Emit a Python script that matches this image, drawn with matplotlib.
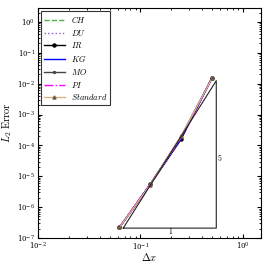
import matplotlib
matplotlib.use("Agg")
import matplotlib.pyplot as plt

plt.rcParams['mathtext.fontset'] = 'cm'
plt.rcParams['font.family'] = 'serif'
plt.rcParams['font.serif'] = ['DejaVu Serif']

# grid spacing
dx = [0.0625, 0.125, 0.25, 0.5]

# L2 errors per method
err_ch = [2.2e-7, 5.6e-6, 1.75e-4, 1.5e-2]
err_du = [2.3e-7, 5.6e-6, 1.8e-4, 1.55e-2]
err_ir = [2.2e-7, 5.5e-6, 1.6e-4, 1.58e-2]
err_kg = [2.2e-7, 5.5e-6, 1.7e-4, 1.5e-2]
err_mo = [2.2e-7, 5.5e-6, 2.0e-4, 1.55e-2]
err_pi = [2.3e-7, 5.7e-6, 1.8e-4, 1.5e-2]
err_std = [2.2e-7, 5.4e-6, 2.0e-4, 1.5e-2]

# slope triangle corners
tri_x = [0.068, 0.55, 0.55, 0.068]
tri_y = [2.1e-7, 2.1e-7, 1.25e-2, 2.1e-7]

fig = plt.figure(figsize=(2.69, 2.69), dpi=100)
ax = fig.add_axes([0.141, 0.115, 0.829, 0.855])

ax.plot(dx, err_ch, '--', color='#4daf4a', lw=1.0, label='$CH$')
ax.plot(dx, err_du, ':', color='#8e5fd0', lw=1.0, label='$DU$')
ax.plot(dx, err_ir, '-', color='black', lw=1.0, marker='o', ms=2.2, label='$IR$')
ax.plot(dx, err_kg, '-', color='blue', lw=1.0, label='$KG$')
ax.plot(dx, err_mo, '-', color='#444444', lw=1.0, marker='o', ms=1.4, label='$MO$')
ax.plot(dx, err_pi, '-.', color='magenta', lw=1.0, label='$PI$')
ax.plot(dx, err_std, '-', color='#d9b38c', lw=1.0, marker='^', ms=2.2,
        mfc='#8b7355', mec='#6b5a45', label='$Standard$')

ax.plot(tri_x, tri_y, '-', color='#222222', lw=0.8)
ax.text(0.197, 1.65e-7, '$1$', fontsize=5.5, ha='center', va='center')
ax.text(0.6, 4e-5, '$5$', fontsize=5.5, ha='center', va='center')

ax.set_xscale('log')
ax.set_yscale('log')
ax.set_xlim(1e-2, 1.5)
ax.set_ylim(1e-7, 2.8)
ax.set_xlabel(r'$\Delta x$', fontsize=7.5, labelpad=-1)
ax.set_ylabel(r'$L_2\ \mathrm{Error}$', fontsize=7.5, labelpad=2)
ax.tick_params(which='both', direction='in', top=True, right=True, labelsize=5, pad=2)
ax.tick_params(which='major', length=3)
ax.tick_params(which='minor', length=1.5)

leg = ax.legend(loc='upper left', fontsize=6, handlelength=2.5, borderaxespad=0.4,
                fancybox=False, labelspacing=0.33, borderpad=0.3)
leg.get_frame().set_edgecolor('black')
leg.get_frame().set_linewidth(0.8)

fig.savefig('out.png', dpi=100)
